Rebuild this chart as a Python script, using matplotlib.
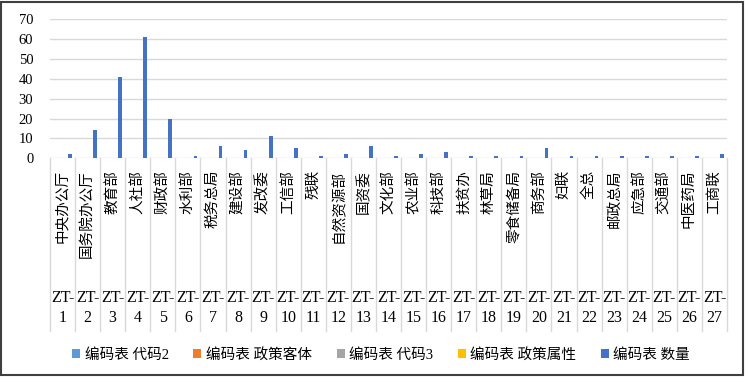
import matplotlib
matplotlib.use("Agg")
import matplotlib.pyplot as plt
import numpy as np
from matplotlib.patches import Rectangle

plt.rcParams['font.family'] = ['Liberation Serif', 'Noto Sans CJK SC', 'DejaVu Sans']

# 数据
codes = ["ZT-%d" % i for i in range(1, 28)]
depts = ["中央办公厅", "国务院办公厅", "教育部", "人社部", "财政部", "水利部", "税务总局",
         "建设部", "发改委", "工信部", "残联", "自然资源部", "国资委", "文化部",
         "农业部", "科技部", "扶贫办", "林草局", "零食储备局", "商务部", "妇联",
         "全总", "邮政总局", "应急部", "交通部", "中医药局", "工商联"]
shuliang = [2, 14, 41, 61, 20, 1, 6, 4, 11, 5, 1, 2, 6, 1,
            2, 3, 1, 1, 1, 5, 1, 1, 1, 1, 1, 1, 2]
empty = [np.nan] * 27   # 其它四个系列没有数据

series_names = ["编码表 代码2", "编码表 政策客体", "编码表 代码3", "编码表 政策属性", "编码表 数量"]
series_vals = [empty, empty, empty, empty, shuliang]
colors = ["#5B9BD5", "#ED7D31", "#A5A5A5", "#FFC000", "#4472C4"]

W, H = 746, 377
fig = plt.figure(figsize=(W / 100, H / 100), dpi=100)
ax_l, ax_r, ax_t, ax_b = 50, 727, 19, 158.3
ax = fig.add_axes([ax_l / W, 1 - ax_b / H, (ax_r - ax_l) / W, (ax_b - ax_t) / H])

x = np.arange(27)
w = 0.15
handles = []
for k in range(5):
    b = ax.bar(x + (k - 2) * w, series_vals[k], width=w, color=colors[k], zorder=3)
    handles.append(b)

ax.set_xlim(-0.5, 26.5)
ax.set_ylim(0, 70)
ax.set_yticks(range(0, 71, 10))
ax.tick_params(axis='y', length=0, pad=12, labelsize=10.5)
ax.set_xticks([])
for s in ax.spines.values():
    s.set_visible(False)
for yv in range(0, 71, 10):
    ax.axhline(yv, color="#D9D9D9", lw=1, zorder=1)

# 多级分类轴
axh = ax_b - ax_t
tr = ax.get_xaxis_transform()
def fy(py):
    return (ax_b - py) / axh

for i in range(28):
    ax.plot([i - 0.5, i - 0.5], [0, fy(331)], transform=tr, color="#D9D9D9",
            lw=1, clip_on=False, zorder=1)
for i in range(27):
    ax.text(i, fy(170), depts[i], transform=tr, rotation=90, ha="center", va="top",
            fontsize=10.5, color="#000000")
    ax.text(i, fy(298), "ZT-", transform=tr, ha="center", va="center", fontsize=11.5)
    ax.text(i, fy(318), str(i + 1), transform=tr, ha="center", va="center", fontsize=11.5)

leg = fig.legend(handles, series_names, loc="center", bbox_to_anchor=(0.511, 1 - 355 / H),
                 ncol=5, frameon=False, fontsize=10.5, handlelength=0.55, handleheight=0.55,
                 handletextpad=0.3, columnspacing=1.7)

fig.patches.append(Rectangle((0.002, 0.004), 0.994, 0.992, transform=fig.transFigure,
                             fill=False, edgecolor="#404040", lw=1.5))

fig.savefig("out.png", dpi=100)
